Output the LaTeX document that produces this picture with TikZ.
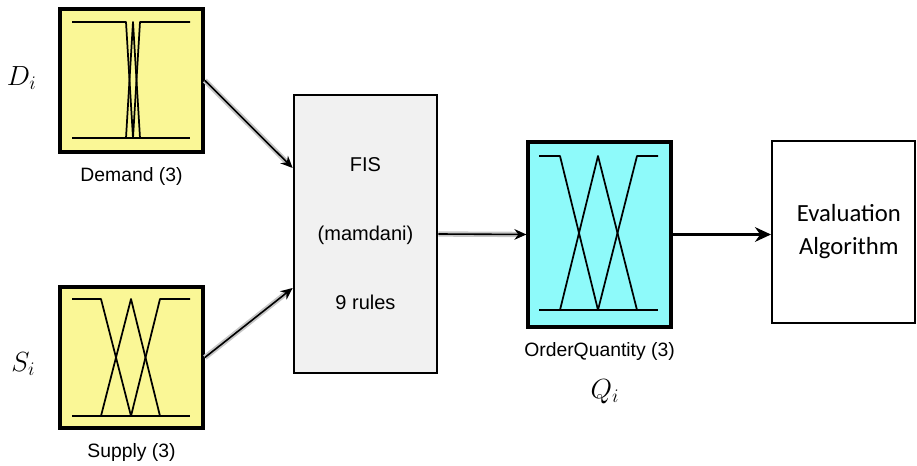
\documentclass[tikz,border=0pt]{standalone}
\usepackage{fontspec}
\setmainfont{Liberation Sans}
\newfontfamily\calibri{Carlito}
\usepackage{tikz}
\usetikzlibrary{positioning, arrows.meta}

\definecolor{mfyellow}{RGB}{250,247,150}
\definecolor{mfcyan}{RGB}{142,250,250}
\definecolor{fisgray}{RGB}{241,241,241}

\tikzset{
  mfbox/.style={draw, line width=2.8pt, inner sep=0pt, minimum width=107.25pt},
  mfline/.style={line width=1.3pt, line join=round},
  lbl/.style={inner sep=0pt, font=\fontsize{14.5}{17}\selectfont},
  var/.style={inner sep=0pt, font=\fontsize{22}{26}\selectfont},
  wire/.style={line width=1.2pt, -{Stealth[length=9pt,width=8pt]},
    preaction={draw=gray!45, line width=4pt, -, shorten >=7pt}},
}

% shoulder, triangle, shoulder:  x0, a, b, c, x1, top, bottom
\newcommand{\mfset}[7]{%
  \draw[mfline] (#1,#7) -- (#5,#7);
  \draw[mfline] (#1,#6) -- (#2,#6) -- (#3,#7);
  \draw[mfline] (#2,#7) -- (#3,#6) -- (#4,#7);
  \draw[mfline] (#3,#7) -- (#4,#6) -- (#5,#6);
}

\begin{document}
\begin{tikzpicture}[x=0.75pt, y=-0.75pt]
\useasboundingbox (0,0) rectangle (917,466);

% inputs
\node[mfbox, fill=mfyellow, minimum height=107.25pt] (demand) at (131.5,80.5) {};
\node[mfbox, fill=mfyellow, minimum height=105.75pt] (supply) at (131.5,357.5) {};
\mfset{72}{126}{133}{140}{190}{22}{138}
\mfset{72}{101}{131}{160}{190}{299}{416}

\node[lbl, below=10pt of demand] (demandlbl) {Demand (3)};
\node[lbl, below=10pt of supply] (supplylbl) {Supply (3)};
\node[var, left=16pt of demand, yshift=2pt] (d) {$D_i$};
\node[var, left=17pt of supply, yshift=-5pt] (s) {$S_i$};

% inference system
\node[draw, line width=2pt, fill=fisgray, minimum width=107.25pt, minimum height=208.5pt,
      align=center, font=\fontsize{15}{51.75}\selectfont] (fis) at (365.5,234)
      {FIS\\(mamdani)\\9 rules};

% output
\node[mfbox, fill=mfcyan, line width=2.4pt, minimum height=138.75pt] (order) at (599.5,234.5) {};
\mfset{539}{560}{598}{637}{658}{156}{310}
\node[lbl, below=10pt of order] (orderlbl) {OrderQuantity (3)};
\node[var, below=14pt of orderlbl, xshift=4pt] (q) {$Q_i$};

\node[draw, line width=1.5pt, minimum width=107.25pt, minimum height=136.5pt,
      align=center, font=\calibri\fontsize{18.5}{24.75}\selectfont] (eval) at (843.5,232)
      {\hspace*{8pt}Evaluation\\\hspace*{8pt}Algorithm};

\draw[wire] (demand.east) -- ([yshift=49.5pt]fis.west);
\draw[wire] (supply.east) -- ([yshift=-40.5pt]fis.west);
\draw[wire] (fis.east) -- (order.west);
\draw[line width=2.4pt, -{Stealth[length=12pt,width=11pt]}] (order.east) -- (order.east -| eval.west);
\end{tikzpicture}
\end{document}
